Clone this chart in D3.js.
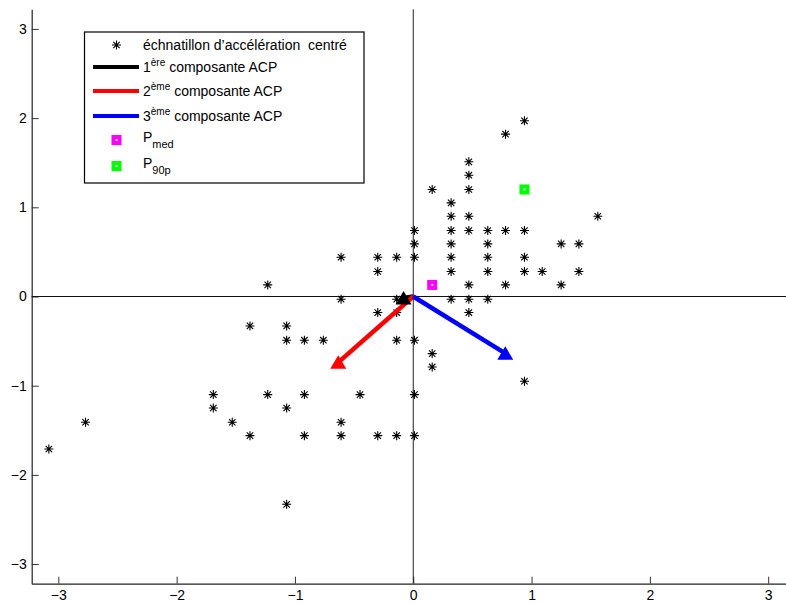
<!DOCTYPE html>
<html><head><meta charset="utf-8">
<script src="https://cdn.jsdelivr.net/npm/d3@7"></script>
<style>body{margin:0;background:#fff}svg{display:block}text{font-family:"Liberation Sans",Arial,sans-serif}</style>
</head><body>
<svg id="c" width="786" height="604"></svg>
<script>
// Centered acceleration samples (x, y)
const sampleX = [0.94,0.78,0.47,0.47,0.16,0.47,0.32,0.32,0.47,1.56,
  0.01,0.32,0.47,0.63,0.78,0.94,
  0.01,0.32,0.63,1.25,1.40,
  -0.61,-0.30,-0.14,0.01,0.32,0.63,0.94,
  -0.30,0.32,0.63,0.94,1.09,1.40,
  -1.23,0.47,0.78,1.25,
  -0.61,-0.14,0.32,0.47,0.63,
  -0.30,-0.14,0.47,
  -1.38,-1.07,
  -1.07,-0.92,-0.76,-0.14,0.01,
  0.16,0.16,0.94,
  -1.69,-1.23,-0.92,-0.45,0.01,
  -1.69,-1.07,
  -2.77,-1.53,-0.61,
  -1.38,-0.92,-0.61,-0.30,-0.14,0.01,
  -3.08,-1.07];
const sampleY = [1.97,1.82,1.51,1.36,1.20,1.20,1.05,0.90,0.90,0.90,
  0.74,0.74,0.74,0.74,0.74,0.74,
  0.59,0.59,0.59,0.59,0.59,
  0.44,0.44,0.44,0.44,0.44,0.44,0.44,
  0.28,0.28,0.28,0.28,0.28,0.28,
  0.13,0.13,0.13,0.13,
  -0.03,-0.03,-0.03,-0.03,-0.03,
  -0.18,-0.18,-0.18,
  -0.33,-0.33,
  -0.49,-0.49,-0.49,-0.49,-0.49,
  -0.64,-0.79,-0.95,
  -1.10,-1.10,-1.10,-1.10,-1.10,
  -1.25,-1.25,
  -1.41,-1.41,-1.41,
  -1.56,-1.56,-1.56,-1.56,-1.56,-1.56,
  -1.71,-2.33];
// PCA component end points
const compNames = ["1ère","2ème","3ème"];
const compX = [-0.082,-0.634,0.778];
const compY = [-0.017,-0.738,-0.637];
const compColors = ["#000000","#ff0000","#0000ff"];
// Special points
const pMedX = 0.16, pMedY = 0.13;
const p90X = 0.94, p90Y = 1.20;
const xTicks = [-3,-2,-1,0,1,2,3];
const yTicks = [-3,-2,-1,0,1,2,3];

const svg = d3.select("#c");
const x = d3.scaleLinear().domain([-3.225,3.225]).range([31.7,794.8]);
const y = d3.scaleLinear().domain([-3.22,3.22]).range([583.7,9.3]);
const x0 = x.range()[0], yB = y.range()[0], yT = y.range()[1];

// axes (inward ticks)
const gx = svg.append("g").attr("transform",`translate(0,${yB})`)
  .call(d3.axisBottom(x).tickValues(xTicks).tickSizeInner(-7).tickSizeOuter(0).tickPadding(10).tickFormat(d=>d<0?"\u2212"+(-d):d));
const gy = svg.append("g").attr("transform",`translate(${x0},0)`)
  .call(d3.axisLeft(y).tickValues(yTicks).tickSizeInner(-7).tickSizeOuter(0).tickPadding(5).tickFormat(d=>d<0?"\u2212"+(-d):d));
[gx,gy].forEach(g=>{
  g.select(".domain").attr("stroke","#222").attr("stroke-width",1.2);
  g.selectAll(".tick line").attr("stroke","#333").attr("stroke-width",1);
  g.selectAll(".tick text").attr("font-size",14).attr("fill","#000").attr("font-family","Liberation Sans, Arial, sans-serif");
});
gx.selectAll(".tick text").attr("dy","0.45em");

// zero lines
svg.append("line").attr("x1",x(0)).attr("x2",x(0)).attr("y1",yT).attr("y2",yB).attr("stroke","#222").attr("stroke-width",1);
svg.append("line").attr("x1",x0).attr("x2",786).attr("y1",y(0)).attr("y2",y(0)).attr("stroke","#111").attr("stroke-width",1);

// stars
const star = "M-4.5,0H4.5M0,-4.5V4.5M-3.2,-3.2L3.2,3.2M-3.2,3.2L3.2,-3.2";
svg.append("g").selectAll("path").data(sampleX.map((v,i)=>[v,sampleY[i]])).join("path")
  .attr("d",star).attr("transform",d=>`translate(${x(d[0])},${y(d[1])})`)
  .attr("stroke","#000").attr("stroke-width",1.1).attr("fill","none");

// components
const tri = "M0,-7L8,6.5L-8,6.5Z";
compX.forEach((cx,i)=>{
  svg.append("line").attr("x1",x(0)).attr("y1",y(0)).attr("x2",x(cx)).attr("y2",y(compY[i]))
    .attr("stroke",compColors[i]).attr("stroke-width",4.5);
});
compX.forEach((cx,i)=>{
  svg.append("path").attr("d",tri).attr("transform",`translate(${x(cx)},${y(compY[i])})`).attr("fill",compColors[i]);
});

// special squares
function sq(g,cx,cy,col){
  g.append("rect").attr("x",cx-5).attr("y",cy-5).attr("width",10).attr("height",10).attr("fill",col);
  g.append("rect").attr("x",cx-1).attr("y",cy-1).attr("width",2).attr("height",2).attr("fill","#fff");
}
sq(svg,x(pMedX),y(pMedY),"#ff00ff");
sq(svg,x(p90X),y(p90Y),"#00ff00");

// legend
const lg = svg.append("g");
lg.append("rect").attr("x",84.5).attr("y",32).attr("width",279.5).attr("height",151).attr("fill","#fff").attr("stroke","#000").attr("stroke-width",1.2);
const tx = 143, fs = 14;
lg.append("path").attr("d",star).attr("transform","translate(116.5,45)").attr("stroke","#000").attr("stroke-width",1.1);
lg.append("text").attr("x",tx).attr("y",50).attr("font-size",fs).text("échnatillon d\u2019accélération  centré").attr("xml:space","preserve").style("white-space","pre");
const rows = [67,91,116];
compNames.forEach((n,i)=>{
  lg.append("line").attr("x1",93).attr("x2",139).attr("y1",rows[i]).attr("y2",rows[i]).attr("stroke",compColors[i]).attr("stroke-width",4);
  const t = lg.append("text").attr("x",tx).attr("y",rows[i]+5).attr("font-size",fs);
  t.append("tspan").text(n.slice(0,1));
  t.append("tspan").attr("font-size",10).attr("dy",-6).text(n.slice(1));
  t.append("tspan").attr("dy",6).text(" composante ACP");
});
sq(lg,116.5,140,"#ff00ff");
sq(lg,116.5,166,"#00ff00");
[["med",140],["90p",166]].forEach(([s,yy])=>{
  const t = lg.append("text").attr("x",tx).attr("y",yy+2).attr("font-size",fs);
  t.append("tspan").text("P");
  t.append("tspan").attr("font-size",11).attr("dy",6).text(s);
});
</script>
</body></html>
